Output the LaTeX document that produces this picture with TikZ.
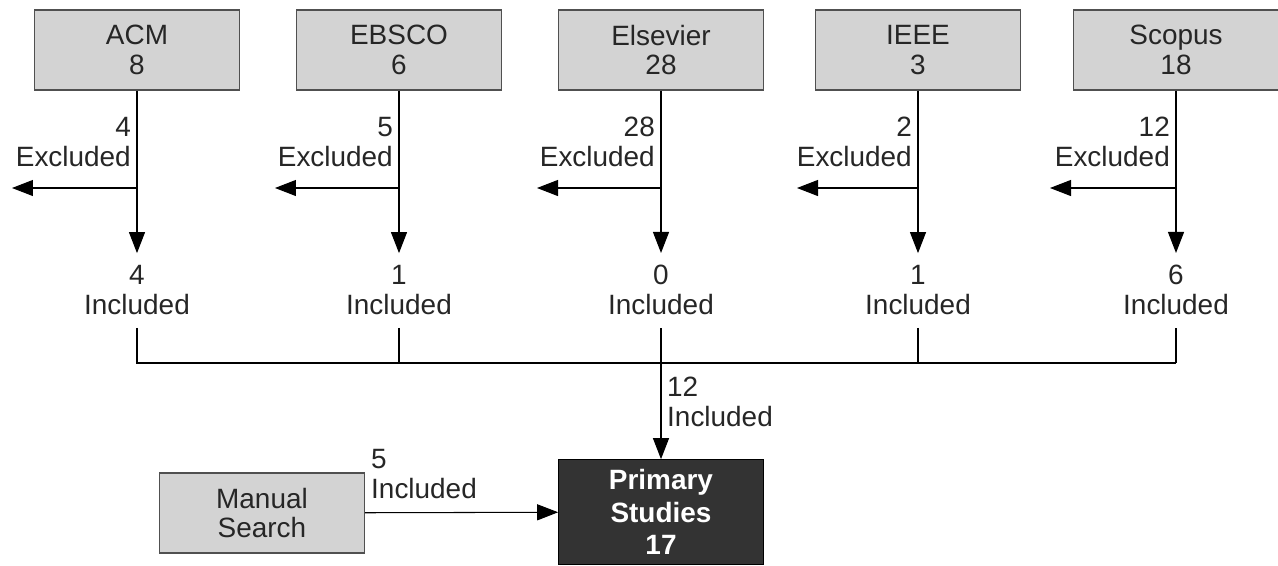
\documentclass[tikz,border=0pt]{standalone}
\usepackage{fontspec}
\setmainfont{Liberation Sans}
\usetikzlibrary{arrows.meta}

\definecolor{boxgray}{HTML}{D3D3D3}
\definecolor{edgegray}{HTML}{505050}
\definecolor{darkbox}{HTML}{333333}

\begin{document}
\begin{tikzpicture}[x=0.02cm, y=-0.02cm,
	every node/.style={font=\fontsize{15.9}{17}\selectfont, text=black!85},
	source/.style={draw=edgegray, line width=0.8pt, fill=boxgray, align=center, minimum width=4.1cm, minimum height=1.6cm},
	result/.style={draw=black, fill=darkbox, text=white, align=center, font=\fontsize{15.9}{18.4}\selectfont\bfseries, minimum width=4.1cm, minimum height=2.1cm},
	arr/.style={-{Triangle[length=0.42cm, width=0.32cm]}, line width=0.6pt}]
	
	\useasboundingbox (0, 0) rectangle (1278, 565);
	
	\node [source] (acm) at (137, 50) {ACM\\8};
	\node [source] (ebsco) at (399, 50) {EBSCO\\6};
	\node [source] (els) at (661, 50) {Elsevier\\28};
	\node [source] (ieee) at (918, 50) {IEEE\\3};
	\node [source] (scopus) at (1176, 50) {Scopus\\18};
	
	\node [anchor=east, align=right] (acmexc) at (137, 142) {4\\Excluded};
	\node [anchor=east, align=right] (ebscoexc) at (399, 142) {5\\Excluded};
	\node [anchor=east, align=right] (elsexc) at (661, 142) {28\\Excluded};
	\node [anchor=east, align=right] (ieeeexc) at (918, 142) {2\\Excluded};
	\node [anchor=east, align=right] (scopusexc) at (1176, 142) {12\\Excluded};
	
	\node [align=center] (acminc) at (137, 290) {4\\Included};
	\node [align=center] (ebscoinc) at (399, 290) {1\\Included};
	\node [align=center] (elsinc) at (661, 290) {0\\Included};
	\node [align=center] (ieeeinc) at (918, 290) {1\\Included};
	\node [align=center] (scopusinc) at (1176, 290) {6\\Included};
	
	\node [result] (primary) at (661, 512) {Primary\\Studies\\17};
	\node [source] (manual) at (262, 513) {Manual\\Search};
	
	\node [anchor=west, align=left] (total) at (661, 402) {12\\Included};
	\node [anchor=west, align=left] (manualinc) at (365, 474) {5\\Included};
	
	\coordinate (acmout) at (12, 188);
	\coordinate (ebscoout) at (275, 188);
	\coordinate (elsout) at (537, 188);
	\coordinate (ieeeout) at (797, 188);
	\coordinate (scopusout) at (1050, 188);
	\coordinate (bus) at (661, 363);
	
	\draw [arr, shorten >=0.12cm] (acm) -- (acminc);
	\draw [arr, shorten >=0.12cm] (ebsco) -- (ebscoinc);
	\draw [arr, shorten >=0.12cm] (els) -- (elsinc);
	\draw [arr, shorten >=0.12cm] (ieee) -- (ieeeinc);
	\draw [arr, shorten >=0.12cm] (scopus) -- (scopusinc);
	
	\draw [arr] (acm |- acmout) -- (acmout);
	\draw [arr] (ebsco |- ebscoout) -- (ebscoout);
	\draw [arr] (els |- elsout) -- (elsout);
	\draw [arr] (ieee |- ieeeout) -- (ieeeout);
	\draw [arr] (scopus |- scopusout) -- (scopusout);
	
	\draw [line width=0.6pt, shorten <=0.14cm] (acminc.south) -- (acminc.south |- bus) -- (scopusinc.south |- bus);
	\draw [line width=0.6pt, shorten <=0.14cm] (ebscoinc.south) -- (ebscoinc.south |- bus);
	\draw [line width=0.6pt, shorten <=0.14cm] (ieeeinc.south) -- (ieeeinc.south |- bus);
	\draw [line width=0.6pt, shorten <=0.14cm] (scopusinc.south) -- (scopusinc.south |- bus);
	\draw [arr, shorten <=0.14cm] (elsinc.south) -- (primary.north);
	
	\draw [arr] (manual) -- (primary);
	
\end{tikzpicture}
\end{document}
